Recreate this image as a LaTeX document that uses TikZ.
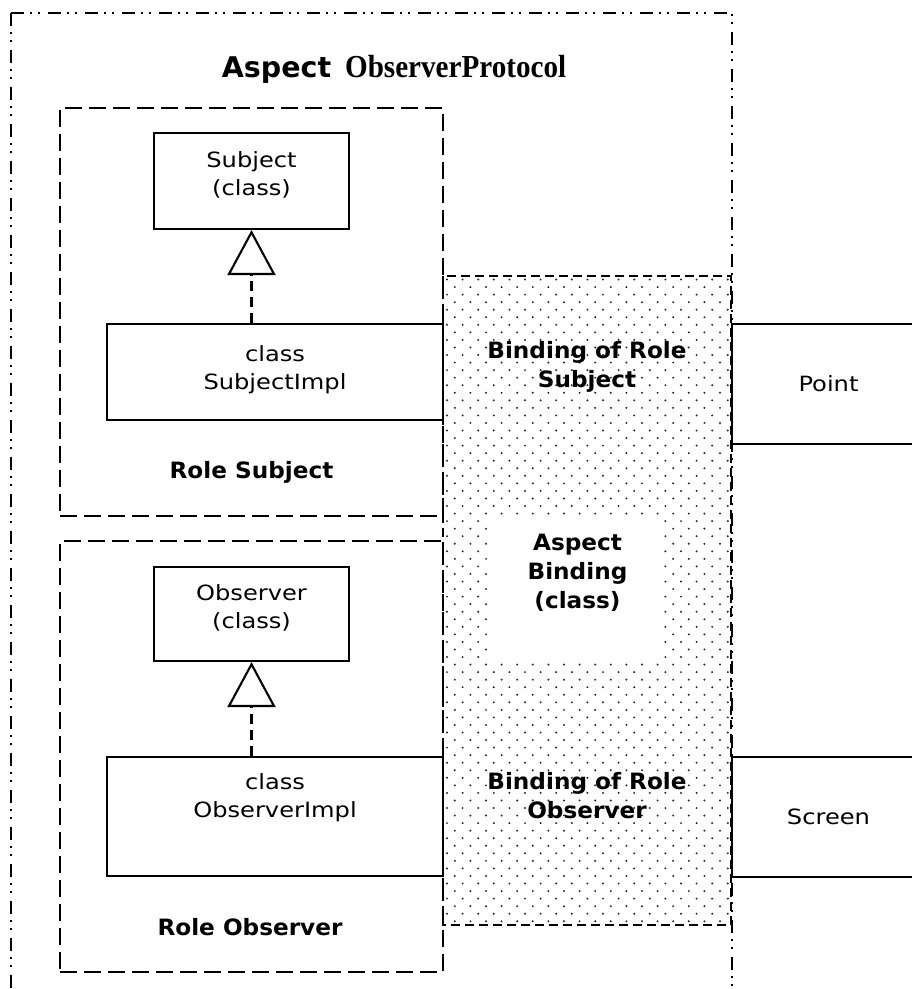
\documentclass[tikz,border=0pt]{standalone}
\usepackage{fontspec}
\setmainfont{DejaVu Sans}
\newfontfamily\lblfont{DejaVu Sans}[FakeStretch=1.15]
\newfontfamily\lblbold{DejaVu Sans}[FakeStretch=1.03]
\newfontfamily\ttlsans{DejaVu Sans}
\newfontfamily\ttlserif{Liberation Serif}[FakeStretch=0.91]
\usetikzlibrary{arrows.meta}

\tikzset{
  classbox/.style={draw, line width=2.1pt, inner sep=0pt, fill=white},
  rolebox/.style={draw, line width=2.1pt, inner sep=0pt, dash pattern=on 17pt off 7pt},
  bindline/.style={line width=2.1pt, dash pattern=on 9pt off 5pt},
  aspectline/.style={line width=2.1pt, dash pattern=on 13pt off 6pt on 2pt off 6pt on 2pt off 8pt},
  lbl/.style={font=\lblfont\fontsize{21}{28}\selectfont, align=center, inner sep=0pt},
  boldlbl/.style={font=\lblbold\bfseries\fontsize{22.5}{29}\selectfont, align=center, inner sep=0pt},
  inherit/.style={line width=2.1pt, dash pattern=on 10pt off 6pt,
    -{Triangle[open, length=45pt, width=48pt, line width=2.1pt]}},
}
\colorlet{dotc}{black!85}

\begin{document}
\begin{tikzpicture}[x=1pt, y=-1pt]
\useasboundingbox (0,0) rectangle (912,989);

% binding area with its staggered dot texture
\node[minimum width=288pt, minimum height=649pt, inner sep=0pt] (bind) at (587,600.5) {};
\begin{scope}
  \clip (bind.north west) rectangle (bind.south east);
  \foreach \r in {0,...,85} {
    \foreach \c in {0,...,18} {
      \fill[dotc] ({447+mod(\r,2)*7.8+\c*15.6}, {279.5+\r*7.55}) circle[radius=1.1pt];
    }
  }
\end{scope}
\node[fill=white, minimum width=171pt, minimum height=145pt, inner sep=0pt] (abwhite) at (577.5,587.5) {};
\draw[bindline] (bind.north west) rectangle (bind.south east);

% outer aspect frame (open at the bottom)
\draw[aspectline] (11,13) -- (732,13) -- (732,1000);
\draw[aspectline] (11,13) -- (11,1000);

% title
\node[anchor=base, inner sep=0pt] (title) at (394,77)
  {{\ttlsans\bfseries\fontsize{28.5}{34}\selectfont Aspect}\hspace{14pt}{\ttlserif\bfseries\fontsize{32}{36}\selectfont ObserverProtocol}};

% role containers
\node[rolebox, minimum width=383pt, minimum height=408pt] (rsub) at (251.5,312) {};
\node[rolebox, minimum width=383pt, minimum height=431pt] (robs) at (251.5,756.5) {};

% classes
\node[classbox, minimum width=195pt, minimum height=96pt] (subj) at (251.5,181) {};
\node[classbox, minimum width=336pt, minimum height=96pt] (simpl) at (275,372) {};
\node[classbox, minimum width=195pt, minimum height=94pt] (obs) at (251.5,614) {};
\node[classbox, minimum width=336pt, minimum height=119pt] (oimpl) at (275,816.5) {};

\node[lbl] (subjt) at (251.5,175) {Subject\\(class)};
\node[lbl] (simplt) at (275,370) {class\\SubjectImpl};
\node[lbl] (obst) at (251.5,608) {Observer\\(class)};
\node[lbl] (oimplt) at (275,798) {class\\ObserverImpl};

% realization links
\draw[inherit] (subj.south |- simpl.north) -- (subj.south);
\draw[inherit] (obs.south |- oimpl.north) -- (obs.south);

% role captions
\node[boldlbl] (rsubt) at (251.5,472) {Role Subject};
\node[boldlbl] (robst) at (250,927) {Role Observer};

% binding captions
\node[boldlbl] (bsub) at (587,367) {Binding of Role\\Subject};
\node[boldlbl] (abind) at (577.5,573) {Aspect\\Binding\\(class)};
\node[boldlbl] (bobs) at (587,796) {Binding of Role\\Observer};

% base classes outside the aspect
\node[classbox, minimum width=193pt, minimum height=120pt, font=\lblfont\fontsize{21}{28}\selectfont] (point) at (828.5,384) {Point};
\node[classbox, minimum width=193pt, minimum height=120pt, font=\lblfont\fontsize{21}{28}\selectfont] (screen) at (828.5,817) {Screen};
\end{tikzpicture}
\end{document}
